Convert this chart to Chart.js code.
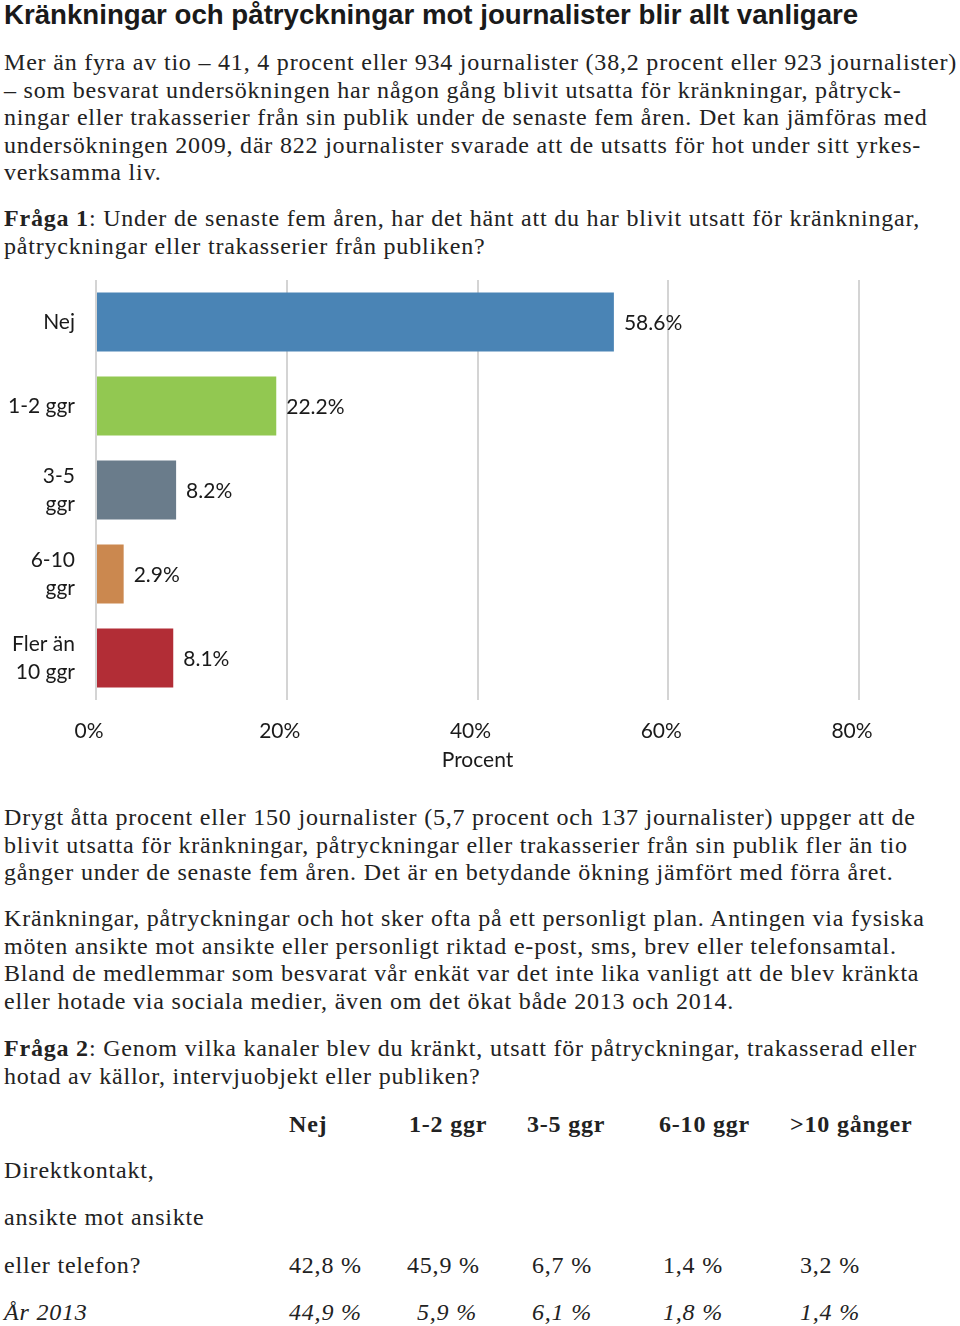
<!DOCTYPE html>
<html lang="sv">
<head>
    <meta charset="UTF-8">
    <title>Kränkningar och påtryckningar mot journalister</title>
    <script src="https://cdn.jsdelivr.net/npm/chart.js@4.4.1/dist/chart.umd.min.js"></script>
    <style>
        body {
            margin: 0;
            width: 960px;
            height: 1326px;
            position: relative;
            background: #fff;
            color: #1a1a1a;
            overflow: hidden;
        }
        .title {
            position: absolute;
            left: 4px;
            top: 0;
            font-family: "Liberation Sans", Arial, sans-serif;
            font-weight: bold;
            font-size: 27px;
            line-height: 30px;
            white-space: nowrap;
            transform-origin: left top;
        }
        .txt, .cell {
            position: absolute;
            font-family: "Liberation Serif", "Times New Roman", serif;
            font-size: 24px;
            letter-spacing: 0.8px;
            white-space: nowrap;
            color: #222;
        }
        .txt {
            left: 4px;
            line-height: 27.5px;
        }
        .cell { line-height: 28px; }
        .chart-box {
            position: absolute;
            left: 0;
            top: 270px;
            width: 960px;
            height: 510px;
        }
    </style>
</head>
<body>
    <div class="title" id="title">Kränkningar och påtryckningar mot journalister blir allt vanligare</div>

    <div class="txt" style="top:49px">
        Mer än fyra av tio – 41, 4 procent eller 934 journalister (38,2 procent eller 923 journalister)<br>
        – som besvarat undersökningen har någon gång blivit utsatta för kränkningar, påtryck-<br>
        ningar eller trakasserier från sin publik under de senaste fem åren. Det kan jämföras med<br>
        undersökningen 2009, där 822 journalister svarade att de utsatts för hot under sitt yrkes-<br>
        verksamma liv.
    </div>

    <div class="txt" style="top:205px">
        <b>Fråga 1</b>: Under de senaste fem åren, har det hänt att du har blivit utsatt för kränkningar,<br>
        påtryckningar eller trakasserier från publiken?
    </div>

    <div class="chart-box">
        <canvas id="chart"></canvas>
    </div>

    <div class="txt" style="top:804px">
        Drygt åtta procent eller 150 journalister (5,7 procent och 137 journalister) uppger att de<br>
        blivit utsatta för kränkningar, påtryckningar eller trakasserier från sin publik fler än tio<br>
        gånger under de senaste fem åren. Det är en betydande ökning jämfört med förra året.
    </div>

    <div class="txt" style="top:905px">
        Kränkningar, påtryckningar och hot sker ofta på ett personligt plan. Antingen via fysiska<br>
        möten ansikte mot ansikte eller personligt riktad e-post, sms, brev eller telefonsamtal.<br>
        Bland de medlemmar som besvarat vår enkät var det inte lika vanligt att de blev kränkta<br>
        eller hotade via sociala medier, även om det ökat både 2013 och 2014.
    </div>

    <div class="txt" style="top:1035px">
        <b>Fråga 2</b>: Genom vilka kanaler blev du kränkt, utsatt för påtryckningar, trakasserad eller<br>
        hotad av källor, intervjuobjekt eller publiken?
    </div>

    <div id="table"></div>

    <script>
        // Chart data
        const categories = ['Nej', '1-2 ggr', ['3-5', 'ggr'], ['6-10', 'ggr'], ['Fler än', '10 ggr']];
        // bar lengths as drawn in the source (the top two bars fall short of their printed labels)
        const barValues = [54.3, 18.9, 8.4, 2.9, 8.1];
        const valueLabels = ['58.6%', '22.2%', '8.2%', '2.9%', '8.1%'];
        const xTicks = [0, 20, 40, 60, 80];

        // Table data
        const tableHeaders = ['Nej', '1-2 ggr', '3-5 ggr', '6-10 ggr', '>10 gånger'];
        const rowLabels = ['Direktkontakt,', 'ansikte mot ansikte', 'eller telefon?'];
        const directValues = ['42,8 %', '45,9 %', '6,7 %', '1,4 %', '3,2 %'];
        const values2013 = ['44,9 %', '5,9 %', '6,1 %', '1,8 %', '1,4 %'];

        // fit the condensed headline into its width
        const title = document.getElementById('title');
        title.style.transform = 'scaleX(' + (854 / title.scrollWidth) + ')';

        // Build table
        function cell(text, x, y, style) {
            const d = document.createElement('div');
            d.className = 'cell';
            d.textContent = text;
            d.style.left = x + 'px';
            d.style.top = y + 'px';
            if (style) d.style.cssText += style;
            document.getElementById('table').appendChild(d);
        }
        const headerX = [289, 409, 527, 659, 790];
        const valueX = [289, 407, 532, 663, 800];
        const value2013X = [289, 417, 532, 663, 800];
        tableHeaders.forEach((h, i) => cell(h, headerX[i], 1110, 'font-weight:bold'));
        rowLabels.forEach((r, i) => cell(r, 4, [1156, 1203, 1251][i]));
        directValues.forEach((v, i) => cell(v, valueX[i], 1251));
        cell('År 2013', 4, 1298, 'font-style:italic');
        values2013.forEach((v, i) => cell(v, value2013X[i], 1298, 'font-style:italic'));

        const chartFont = 'Lato, "Open Sans", sans-serif';

        // value labels at the end of each bar
        const barLabels = {
            id: 'barLabels',
            afterDatasetsDraw(chart) {
                const ctx = chart.ctx;
                const meta = chart.getDatasetMeta(0);
                ctx.save();
                ctx.font = '21px ' + chartFont;
                ctx.fillStyle = '#1a1a1a';
                ctx.textAlign = 'left';
                ctx.textBaseline = 'middle';
                meta.data.forEach((bar, i) => {
                    ctx.fillText(valueLabels[i], bar.x + 10, bar.y + 1);
                });
                ctx.restore();
            }
        };

        new Chart(document.getElementById('chart'), {
            type: 'bar',
            data: {
                labels: categories,
                datasets: [{
                    data: barValues,
                    backgroundColor: ['#4a84b5', '#92c851', '#6a7c8b', '#cb884f', '#b22d36'],
                    borderWidth: 0,
                    barPercentage: 0.7,
                    categoryPercentage: 1.0
                }]
            },
            options: {
                indexAxis: 'y',
                responsive: true,
                maintainAspectRatio: false,
                animation: false,
                layout: { padding: { top: 10, right: 101, left: 0, bottom: 0 } },
                plugins: {
                    legend: { display: false },
                    tooltip: { enabled: false }
                },
                scales: {
                    x: {
                        min: 0,
                        max: 80,
                        afterBuildTicks: (scale) => { scale.ticks = xTicks.map(v => ({ value: v })); },
                        afterFit: (scale) => { scale.height = 80; },
                        ticks: {
                            callback: (v) => v + '%',
                            font: { family: chartFont, size: 21 },
                            color: '#1a1a1a',
                            padding: 19,
                            labelOffset: -7
                        },
                        grid: { color: '#d4d4d4', lineWidth: 2, drawTicks: false },
                        border: { display: false },
                        title: {
                            display: true,
                            text: 'Procent',
                            font: { family: chartFont, size: 21 },
                            color: '#1a1a1a',
                            padding: { top: 0, bottom: 7 }
                        }
                    },
                    y: {
                        afterFit: (scale) => {
                            scale.width = 96;
                            scale.paddingTop = 0;
                            scale.paddingBottom = 0;
                        },
                        ticks: {
                            font: { family: chartFont, size: 21, lineHeight: 1.35 },
                            color: '#1a1a1a',
                            padding: 13
                        },
                        grid: { display: false },
                        border: { display: false }
                    }
                }
            },
            plugins: [barLabels]
        });
    </script>
</body>
</html>
